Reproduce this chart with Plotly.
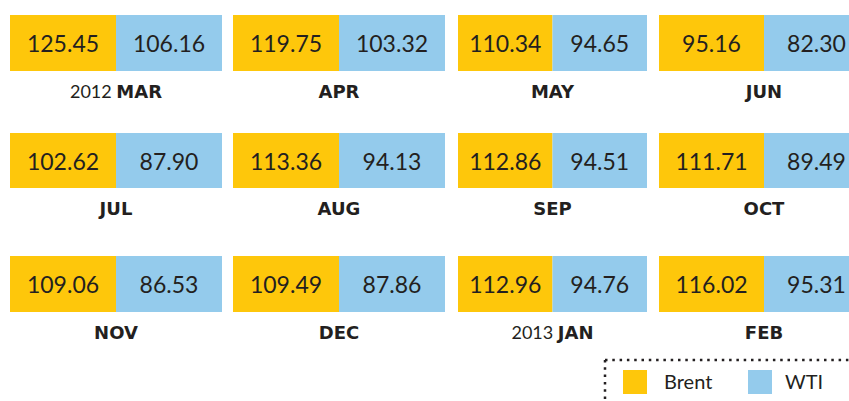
import plotly.graph_objects as go

# ---- data ----
months = ["MAR", "APR", "MAY", "JUN", "JUL", "AUG", "SEP", "OCT", "NOV", "DEC", "JAN", "FEB"]
year_prefix = ["2012", "", "", "", "", "", "", "", "", "", "2013", ""]
brent = [125.45, 119.75, 110.34, 95.16, 102.62, 113.36, 112.86, 111.71, 109.06, 109.49, 112.96, 116.02]
wti = [106.16, 103.32, 94.65, 82.30, 87.90, 94.13, 94.51, 89.49, 86.53, 87.86, 94.76, 95.31]
series_names = ["Brent", "WTI"]

# ---- layout / styling ----
W, H = 849, 401
YELLOW = "#FEC70B"
BLUE = "#94CBEC"
TXT = "#231F20"
FONT = "Lato"
BOLD_FONT = "DejaVu Sans"

col_left = [10, 233, 458, 659]
col_cell_w = [106, 106, 94.5, 105]
row_top = [15, 133, 256]
row_h = [56, 55, 56]
label_gap = 22

fig = go.Figure()

bx, bw, bb, bh, bt = [], [], [], [], []
wx, ww, wb, wh, wt = [], [], [], [], []
lx, ly, lt = [], [], []
for i, m in enumerate(months):
    r, c = divmod(i, 4)
    left, cw = col_left[c], col_cell_w[c]
    top, h = row_top[r], row_h[r]
    bx.append(left + cw / 2); bw.append(cw); bb.append(top); bh.append(h); bt.append(f"{brent[i]:.2f}")
    wx.append(left + cw * 1.5); ww.append(cw); wb.append(top); wh.append(h); wt.append(f"{wti[i]:.2f}")
    lx.append(left + cw)
    ly.append(top + h + label_gap)
    pre = year_prefix[i]
    lbl = f'<span style="font-family:{BOLD_FONT};font-weight:bold">{m}</span>'
    lt.append((pre + " " + lbl) if pre else lbl)

common = dict(orientation="v", textposition="inside", insidetextanchor="middle",
              textangle=0, constraintext="none", cliponaxis=False, showlegend=False,
              hoverinfo="skip",
              insidetextfont=dict(family=FONT, size=23, color=TXT, weight=400))
fig.add_trace(go.Bar(x=bx, y=bh, base=bb, width=bw, text=bt, marker=dict(color=YELLOW, line=dict(width=0)),
                     name=series_names[0], **common))
fig.add_trace(go.Bar(x=wx, y=wh, base=wb, width=ww, text=wt, marker=dict(color=BLUE, line=dict(width=0)),
                     name=series_names[1], **common))

fig.add_trace(go.Scatter(x=lx, y=ly, mode="text", text=lt, textposition="middle center",
                         textfont=dict(family=FONT, size=18, color=TXT, weight=400),
                         showlegend=False, hoverinfo="skip", cliponaxis=False))

# legend (custom)
leg_y = 382
fig.add_trace(go.Scatter(x=[635, 760], y=[leg_y, leg_y], mode="markers",
                         marker=dict(symbol="square", size=24, color=[YELLOW, BLUE], line=dict(width=0)),
                         showlegend=False, hoverinfo="skip", cliponaxis=False))
fig.add_trace(go.Scatter(x=[664, 785], y=[leg_y + 2, leg_y + 2], mode="text", text=series_names,
                         textposition="middle right",
                         textfont=dict(family=FONT, size=20, color=TXT, weight=400),
                         showlegend=False, hoverinfo="skip", cliponaxis=False))

dot = dict(color="#231F20", width=2.5, dash="2.5px,4.8px")
fig.add_shape(type="line", x0=605, x1=W, y0=360, y1=360, line=dot)
fig.add_shape(type="line", x0=605, x1=605, y0=360, y1=H + 2, line=dot)

fig.update_layout(
    width=W, height=H,
    margin=dict(l=0, r=0, t=0, b=0),
    paper_bgcolor="white", plot_bgcolor="white",
    barmode="overlay",
    xaxis=dict(range=[0, W], visible=False, fixedrange=True),
    yaxis=dict(range=[H, 0], visible=False, fixedrange=True),
)

fig.write_html("out.html", config={"displayModeBar": False},
               post_script="document.body.style.margin='0';document.body.style.overflow='hidden';")
